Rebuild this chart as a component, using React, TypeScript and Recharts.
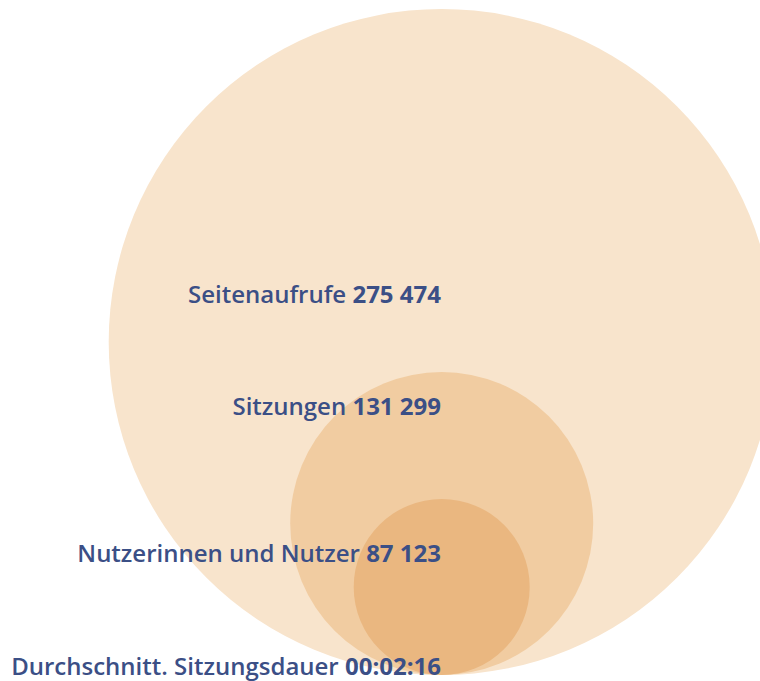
import { ScatterChart, Scatter, XAxis, YAxis, ZAxis } from 'recharts'

const W = 760
const H = 681

// metrics, shown values and the circle radii (px)
const metrics = ['Seitenaufrufe', 'Sitzungen', 'Nutzerinnen und Nutzer', 'Durchschnitt. Sitzungsdauer']
const values = ['275 474', '131 299', '87 123', '00:02:16']
const radii = [333, 151.5, 88]
const circleColors = ['#f8e4cc', '#f1cca1', '#eab780']
// circles share a centre line and touch at the bottom
const centerX = 441.7
const touchY = 6
// label baselines (height above the bottom edge) and right edge
const labelX = 441
const labelY = [378, 266, 119, 6]

const circles = radii.map((r, i) => ({
  name: metrics[i],
  x: centerX,
  y: touchY + r,
  z: Math.PI * r * r,
  fill: circleColors[i],
}))

const labels = metrics.map((m, i) => ({ name: m, value: values[i], x: labelX, y: labelY[i] }))

const maxZ = Math.max(...circles.map((c) => c.z))

function LabelShape(props: any) {
  const { cx, cy, payload } = props
  return (
    <text
      x={cx}
      y={cy}
      textAnchor="end"
      fill="#3b4f86"
      fontFamily="'Open Sans', sans-serif"
      fontSize={24}
      fontWeight={600}
    >
      <tspan>{payload.name} </tspan>
      <tspan fontWeight={700}>{payload.value}</tspan>
    </text>
  )
}

function CircleShape(props: any) {
  const { cx, cy, size, payload } = props
  const r = Math.sqrt(size / Math.PI)
  return <circle cx={cx} cy={cy} r={r} fill={payload.fill} />
}

export default function App() {
  return (
    <div style={{ position: 'absolute', left: 0, top: 0, width: W, height: H }}>
      <ScatterChart width={W} height={H} margin={{ top: 0, right: 0, bottom: 0, left: 0 }}>
        <XAxis type="number" dataKey="x" domain={[0, W]} hide />
        <YAxis type="number" dataKey="y" domain={[0, H]} hide />
        <ZAxis type="number" dataKey="z" domain={[0, maxZ]} range={[0, maxZ]} />
        {circles.map((c) => (
          <Scatter
            key={c.name}
            data={[c]}
            shape={<CircleShape />}
            isAnimationActive={false}
          />
        ))}
        <Scatter data={labels} shape={<LabelShape />} isAnimationActive={false} />
      </ScatterChart>
    </div>
  )
}
